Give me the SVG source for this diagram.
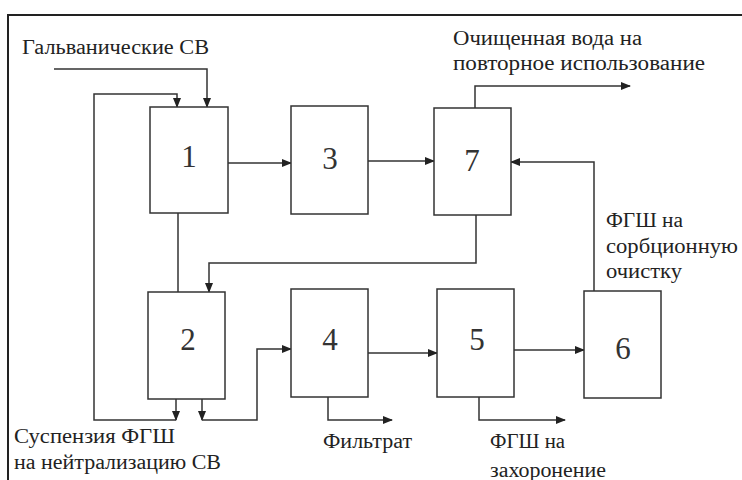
<svg xmlns="http://www.w3.org/2000/svg" width="742" height="480" viewBox="0 0 742 480">
<style>
.box{fill:#fff;stroke:#333;stroke-width:1.5}
.ln{fill:none;stroke:#333;stroke-width:1.5}
.ar{fill:none;stroke:#333;stroke-width:1.5;marker-end:url(#ah)}
</style>
<defs>
<marker id="ah" markerWidth="10" markerHeight="8" refX="9" refY="4" orient="auto" markerUnits="userSpaceOnUse">
<path d="M0,0 L10,4 L0,8 Z" fill="#222"/>
</marker>
</defs>
<rect x="0" y="0" width="742" height="480" fill="#fff"/>
<path d="M8,480 L8,15 L742,15" fill="none" stroke="#222" stroke-width="2"/>
<g id="connectors">
<path class="ar" d="M54,69 L207,69 L207,107"/>
<path class="ar" d="M176,399 L176,420"/>
<path class="ar" d="M176,420 L94,420 L94,94 L177,94 L177,107"/>
<path class="ln" d="M178,213 L178,292"/>
<path class="ar" d="M228,163 L291,163"/>
<path class="ar" d="M368,161 L434,161"/>
<path class="ar" d="M475,108 L475,86 L630,86"/>
<path class="ar" d="M476,215 L476,263 L209,263 L209,292"/>
<path class="ar" d="M594,291 L594,162 L511,162"/>
<path class="ar" d="M202,399 L202,420"/>
<path class="ar" d="M202,420 L257,420 L257,349 L291,349"/>
<path class="ar" d="M368,353 L437,353"/>
<path class="ar" d="M514,350 L584,350"/>
<path class="ar" d="M328,397 L328,420 L392,420"/>
<path class="ar" d="M479,397 L479,420 L565,420"/>
</g>
<g id="node1"><rect class="box" x="150" y="107" width="78" height="106"/><text font-family="Liberation Serif" font-size="31" fill="#333" text-anchor="middle" x="189" y="167">1</text></g>
<g id="node2"><rect class="box" x="148" y="292" width="77" height="107"/><text font-family="Liberation Serif" font-size="31" fill="#333" text-anchor="middle" x="188" y="350">2</text></g>
<g id="node3"><rect class="box" x="291" y="106" width="77" height="108"/><text font-family="Liberation Serif" font-size="31" fill="#333" text-anchor="middle" x="330" y="169">3</text></g>
<g id="node4"><rect class="box" x="291" y="289" width="77" height="108"/><text font-family="Liberation Serif" font-size="31" fill="#333" text-anchor="middle" x="330" y="350">4</text></g>
<g id="node5"><rect class="box" x="437" y="289" width="77" height="108"/><text font-family="Liberation Serif" font-size="31" fill="#333" text-anchor="middle" x="477" y="350">5</text></g>
<g id="node6"><rect class="box" x="584" y="291" width="77" height="107"/><text font-family="Liberation Serif" font-size="31" fill="#333" text-anchor="middle" x="623" y="359">6</text></g>
<g id="node7"><rect class="box" x="434" y="108" width="77" height="107"/><text font-family="Liberation Serif" font-size="31" fill="#333" text-anchor="middle" x="472" y="171">7</text></g>
<text font-family="Liberation Serif" font-size="20" fill="#222" x="22" y="54" textLength="187" lengthAdjust="spacingAndGlyphs">Гальванические СВ</text>
<text font-family="Liberation Serif" font-size="20" fill="#222" x="453" y="45" textLength="189" lengthAdjust="spacingAndGlyphs">Очищенная вода на</text>
<text font-family="Liberation Serif" font-size="20" fill="#222" x="453" y="70" textLength="252" lengthAdjust="spacingAndGlyphs">повторное использование</text>
<text font-family="Liberation Serif" font-size="20" fill="#222" x="606" y="227" textLength="77" lengthAdjust="spacingAndGlyphs">ФГШ на</text>
<text font-family="Liberation Serif" font-size="20" fill="#222" x="606" y="253" textLength="132" lengthAdjust="spacingAndGlyphs">сорбционную</text>
<text font-family="Liberation Serif" font-size="20" fill="#222" x="606" y="278" textLength="76" lengthAdjust="spacingAndGlyphs">очистку</text>
<text font-family="Liberation Serif" font-size="20" fill="#222" x="14" y="443" textLength="161" lengthAdjust="spacingAndGlyphs">Суспензия ФГШ</text>
<text font-family="Liberation Serif" font-size="20" fill="#222" x="14" y="469" textLength="207" lengthAdjust="spacingAndGlyphs">на нейтрализацию СВ</text>
<text font-family="Liberation Serif" font-size="20" fill="#222" x="323" y="448" textLength="89" lengthAdjust="spacingAndGlyphs">Фильтрат</text>
<text font-family="Liberation Serif" font-size="20" fill="#222" x="490" y="448" textLength="75" lengthAdjust="spacingAndGlyphs">ФГШ на</text>
<text font-family="Liberation Serif" font-size="20" fill="#222" x="490" y="477" textLength="116" lengthAdjust="spacingAndGlyphs">захоронение</text>
</svg>
